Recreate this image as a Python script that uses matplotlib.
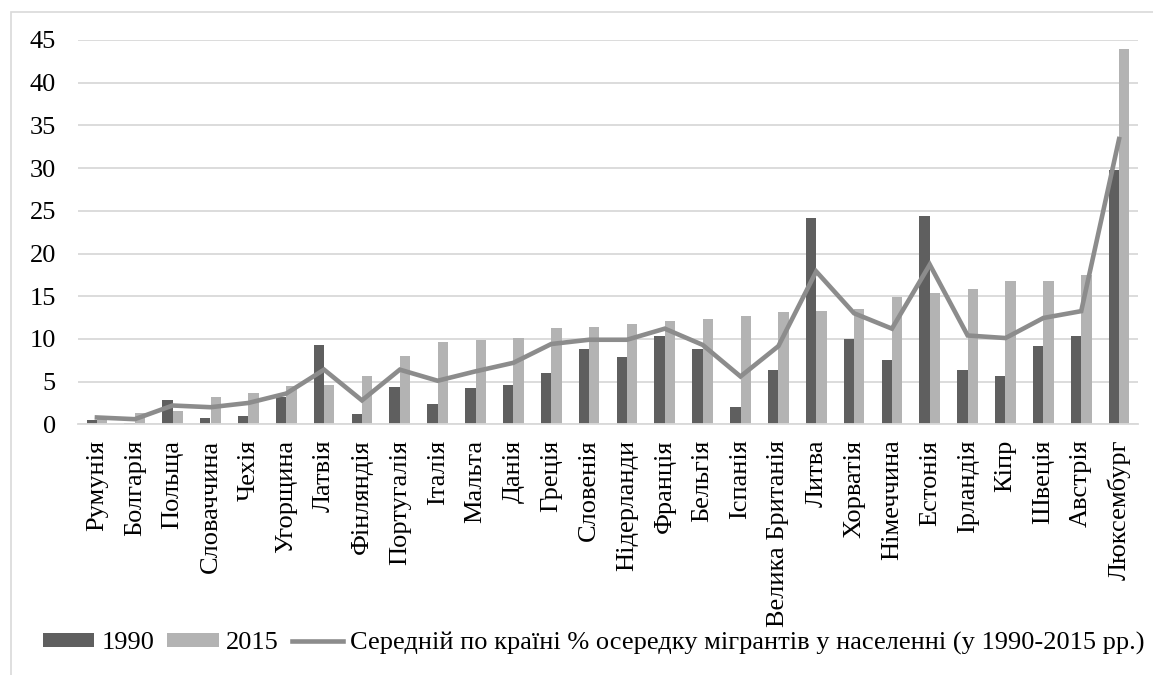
import matplotlib
matplotlib.use("Agg")
from matplotlib import pyplot as plt
from matplotlib.patches import Rectangle
import numpy as np

countries = ["Румунія", "Болгарія", "Польща", "Словаччина", "Чехія", "Угорщина",
             "Латвія", "Фінляндія", "Португалія", "Італія", "Мальта", "Данія",
             "Греція", "Словенія", "Нідерланди", "Франція", "Бельгія", "Іспанія",
             "Велика Британія", "Литва", "Хорватія", "Німеччина", "Естонія",
             "Ірландія", "Кіпр", "Швеція", "Австрія", "Люксембург"]
v1990 = [0.5, 0.2, 2.9, 0.7, 1.0, 3.2, 9.3, 1.2, 4.35, 2.4, 4.2, 4.55,
         6.0, 8.85, 7.85, 10.35, 8.85, 2.0, 6.35, 24.15, 10.0, 7.5, 24.35,
         6.35, 5.65, 9.15, 10.3, 29.8]
v2015 = [1.0, 1.3, 1.5, 3.2, 3.7, 4.5, 4.6, 5.6, 8.05, 9.65, 9.85, 10.05,
         11.25, 11.35, 11.7, 12.1, 12.3, 12.7, 13.2, 13.3, 13.55, 14.9, 15.4,
         15.9, 16.75, 16.75, 17.45, 43.95]
avg = [0.8, 0.6, 2.2, 2.0, 2.5, 3.6, 6.4, 2.8, 6.4, 5.1, 6.2, 7.2,
       9.4, 9.9, 9.9, 11.2, 9.3, 5.6, 9.15, 17.9, 13.0, 11.2, 18.7,
       10.4, 10.1, 12.45, 13.25, 33.4]

plt.rcParams["font.family"] = ["Liberation Serif", "DejaVu Serif"]
fs = 19

fig = plt.figure(figsize=(11.53, 6.75), dpi=100)
ax = fig.add_axes([78/1153, 1-424.3/675, 1060/1153, (424.3-40)/675])

x = np.arange(len(countries))
w = 0.275
b1 = ax.bar(x - w/2, v1990, w, color="#5f5f5f", label="1990", zorder=2)
b2 = ax.bar(x + w/2, v2015, w, color="#b3b3b3", label="2015", zorder=2)
ln, = ax.plot(x, avg, color="#8c8c8c", lw=3.3, solid_joinstyle="miter",
              label="Середній по країні % осередку мігрантів у населенні (у 1990-2015 рр.)", zorder=3)

ax.set_xlim(-0.5, len(countries) - 0.5)
ax.set_ylim(0, 45)
ax.set_yticks(range(0, 46, 5))
ax.grid(axis="y", color="#d9d9d9", lw=1.3, zorder=0)
ax.set_axisbelow(True)
for s in ["top", "right", "left"]:
    ax.spines[s].set_visible(False)
ax.spines["bottom"].set_color("#d9d9d9")
ax.spines["bottom"].set_linewidth(1.3)
ax.set_xticks(x)
ax.set_xticklabels(countries, rotation=90, fontsize=fs)
ax.tick_params(axis="x", length=0, pad=11)
ax.tick_params(axis="y", length=0, pad=16, labelsize=fs)

fig.legend(handles=[b1, b2, ln], loc="center", bbox_to_anchor=(0.515, 0.047), ncol=3,
           frameon=False, fontsize=fs, handlelength=1.95, handleheight=0.45,
           handletextpad=0.27, columnspacing=0.5, borderpad=0, borderaxespad=0)

# chart area frame
fig.patches.append(Rectangle((11/1153, -0.1), 1.2, 1.1 - 12/675, transform=fig.transFigure,
                             fill=False, edgecolor="#d9d9d9", lw=1.2, clip_on=False))

fig.savefig("out.png", dpi=100)
